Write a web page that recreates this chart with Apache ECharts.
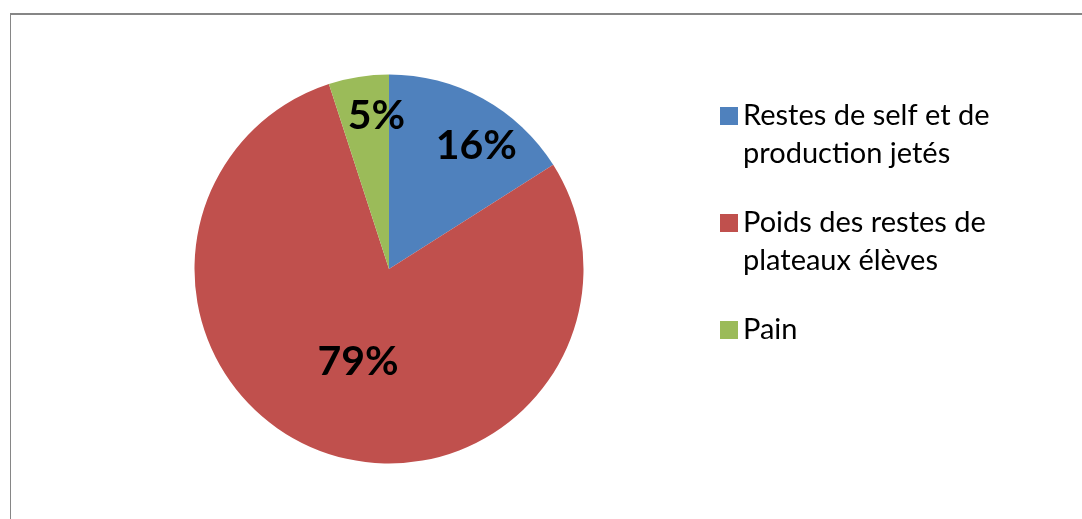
<!DOCTYPE html>
<html>
<head>
<meta charset="utf-8">
<script src="https://cdn.jsdelivr.net/npm/echarts@6/dist/echarts.min.js"></script>
<style>
  html, body { margin: 0; padding: 0; background: #fff; }
  #chart { width: 1082px; height: 519px; }
</style>
</head>
<body>
<div id="chart"></div>
<script>
// categories and values
const categories = ["Restes de self et de production jetés", "Poids des restes de plateaux élèves", "Pain"];
const values = [16, 79, 5];
const colors = ["#4F81BD", "#C0504D", "#9BBB59"];

// legend text as it wraps in the picture
const legendLines = [
  ["Restes de self et de", "production jetés"],
  ["Poids des restes de", "plateaux élèves"],
  ["Pain"]
];

// nudges so the labels sit where Excel put them (best fit)
const labelShift = [[39, -35], [3, -2], [3, -54]];

const chart = echarts.init(document.getElementById("chart"));

const options = {
  animation: false,
  color: colors,
  graphic: [
    { type: "line", shape: { x1: 10, y1: 14, x2: 1082, y2: 14 }, style: { stroke: "#868686", lineWidth: 2 } },
    { type: "line", shape: { x1: 10.5, y1: 13, x2: 10.5, y2: 519 }, style: { stroke: "#868686", lineWidth: 1 } }
  ],
  legend: {
    orient: "vertical",
    left: 720,
    top: 59,
    padding: 0,
    itemWidth: 18,
    itemHeight: 18,
    itemGap: -7,
    icon: "rect",
    // pad with empty lines so the first line sits beside the square, like Excel
    formatter: function (name) {
      const lines = legendLines[categories.indexOf(name)];
      return lines.length > 1 ? "\n" + lines.join("\n") : "\n" + lines[0] + "\n";
    },
    textStyle: {
      fontFamily: "Lato",
      fontSize: 29,
      lineHeight: 38,
      color: "#000"
    },
    data: categories
  },
  series: [
    {
      type: "pie",
      center: [389, 269],
      radius: 194.5,
      startAngle: 90,
      clockwise: true,
      label: {
        show: true,
        position: "inside",
        formatter: "{d}%",
        fontFamily: "Lato",
        fontWeight: "bold",
        fontSize: 41,
        color: "#000"
      },
      labelLine: { show: false },
      labelLayout: function (params) {
        const s = labelShift[params.dataIndex];
        return { dx: s[0], dy: s[1] };
      },
      emphasis: { disabled: true },
      itemStyle: { borderWidth: 0 },
      data: categories.map((name, i) => ({ name: name, value: values[i] }))
    }
  ]
};

chart.setOption(options);
</script>
</body>
</html>
